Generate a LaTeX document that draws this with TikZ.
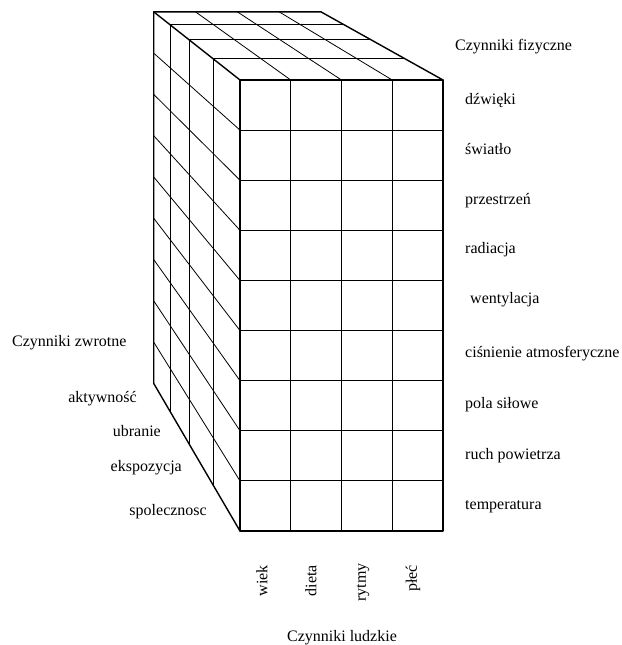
\documentclass[tikz,border=0pt]{standalone}
\usepackage{fontspec}
\setmainfont{Liberation Serif}
\usetikzlibrary{calc,positioning}

\begin{document}
\begin{tikzpicture}[x=1pt,y=-1pt,
    edge/.style={line width=1.4pt,line join=round,line cap=round},
    grid/.style={line width=0.8pt},
    lbl/.style={font=\fontsize{16}{19}\selectfont,inner sep=0pt}]
  \useasboundingbox (0,0) rectangle (621,645);
  \coordinate (V) at (-250,-307);
  % front face
  \foreach \x in {290.75,341.5,392.25}
    \draw[grid] (\x,80) -- (\x,531);
  \foreach \k in {1,...,8}
    \draw[grid] (240,80+50.111*\k) -- (443,80+50.111*\k);
  % top and left faces
  \foreach \x in {290.75,341.5,392.25}
    \draw[grid] (\x,80) -- ($(V)!0.824!(\x,80)$);
  \foreach \k in {1,...,8}
    \draw[grid] (240,80+50.111*\k) -- ($(V)!0.824!(240,80+50.111*\k)$);
  \foreach \s in {0.857,0.896,0.945} {
    \draw[grid] ($(V)!\s!(240,80)$) -- ($(V)!\s!(443,80)$);
    \draw[grid] ($(V)!\s!(240,80)$) -- ($(V)!\s!(240,531)$);
  }
  % outline
  \draw[edge] (240,80) rectangle (443,531);
  \draw[edge] (443,80) -- ($(V)!0.824!(443,80)$) -- ($(V)!0.824!(240,80)$)
    -- ($(V)!0.824!(240,531)$) -- (240,531);
  \draw[edge] (240,80) -- ($(V)!0.824!(240,80)$);

  % physical factors
  \node[lbl,anchor=base west] (fiz) at (455,50) {Czynniki fizyczne};
  \node[lbl,anchor=base west] (f1) at (465,104) {dźwięki};
  \node[lbl,anchor=base west] (f2) at (465,154) {światło};
  \node[lbl,anchor=base west] (f3) at (465,204) {przestrzeń};
  \node[lbl,anchor=base west] (f4) at (465,253) {radiacja};
  \node[lbl,anchor=base west] (f5) at (470,303) {wentylacja};
  \node[lbl,anchor=base west] (f6) at (465,357) {ciśnienie atmosferyczne};
  \node[lbl,anchor=base west] (f7) at (465,408) {pola siłowe};
  \node[lbl,anchor=base west] (f8) at (465,459) {ruch powietrza};
  \node[lbl,anchor=base west] (f9) at (465,509) {temperatura};

  % feedback factors
  \node[lbl,anchor=base west] (zwr) at (12,346) {Czynniki zwrotne};
  \node[lbl,anchor=base east] (z1) at (137,402) {aktywność};
  \node[lbl,anchor=base east] (z2) at (161,436) {ubranie};
  \node[lbl,anchor=base east] (z3) at (182,471) {ekspozycja};
  \node[lbl,anchor=base east] (z4) at (207,515) {spolecznosc};

  % human factors
  \node[lbl,rotate=90,anchor=east] (h1) at (262,565) {wiek};
  \node[lbl,rotate=90,anchor=east] (h2) at (311,565) {dieta};
  \node[lbl,rotate=90,anchor=east] (h3) at (363,563) {rytmy};
  \node[lbl,rotate=90,anchor=east] (h4) at (413,565) {płeć};
  \node[lbl,anchor=base] (lud) at (342,641) {Czynniki ludzkie};
\end{tikzpicture}
\end{document}
